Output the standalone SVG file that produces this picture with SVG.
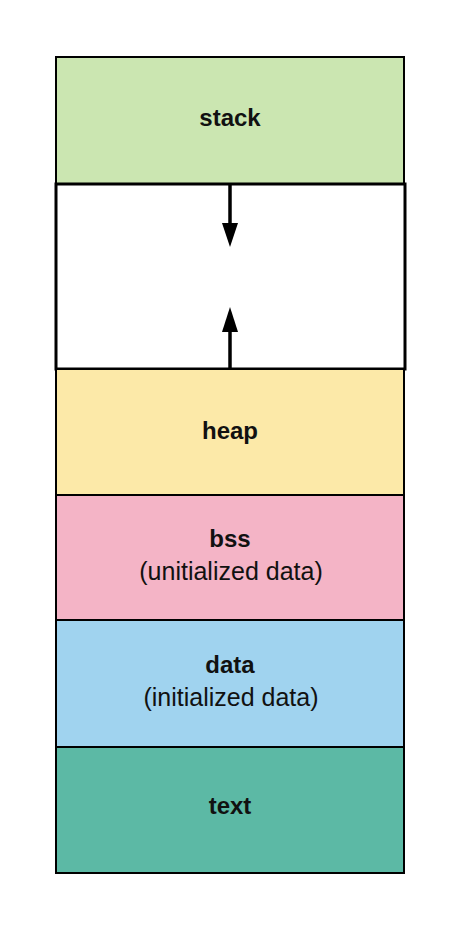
<svg xmlns="http://www.w3.org/2000/svg" width="463" height="930" viewBox="0 0 463 930">
<style>
.seg{stroke:#000;stroke-width:2}
.t{font-family:"Liberation Sans",Arial,sans-serif;font-size:24px;fill:#111;text-anchor:middle}
.r{font-size:25px}
.b{font-weight:bold}
.head{fill:#000;stroke:none}
</style>
<rect width="463" height="930" fill="#fff"/>
<g id="stack"><rect class="seg" x="56" y="57" width="348" height="127" fill="#cbe6b1"/><text class="t b" x="230" y="126">stack</text></g>
<g id="free"><rect x="56" y="184" width="349" height="185" fill="#fff" stroke="#000" stroke-width="3"/></g>
<g id="heap"><rect class="seg" x="56" y="369" width="348" height="126" fill="#fce9a8"/><text class="t b" x="230" y="439">heap</text></g>
<g id="bss"><rect class="seg" x="56" y="495" width="348" height="125" fill="#f4b4c6"/><text class="t b" x="230" y="547">bss</text><text class="t r" x="231" y="580">(unitialized data)</text></g>
<g id="data"><rect class="seg" x="56" y="620" width="348" height="127" fill="#a0d3ef"/><text class="t b" x="230" y="673">data</text><text class="t r" x="231" y="706">(initialized data)</text></g>
<g id="text"><rect class="seg" x="56" y="747" width="348" height="126" fill="#5cb9a5"/><text class="t b" x="230" y="814">text</text></g>
<g id="connectors" stroke="#000" stroke-width="3.5">
<line x1="230" y1="184" x2="230" y2="226"/>
<path class="head" d="M222,223 L238,223 L230,247 Z"/>
<line x1="230" y1="369" x2="230" y2="328"/>
<path class="head" d="M222,332 L238,332 L230,307 Z"/>
</g>
</svg>
